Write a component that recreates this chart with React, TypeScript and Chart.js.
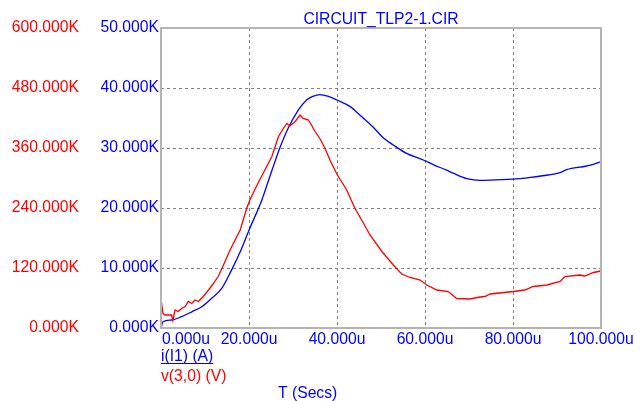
import React, { useEffect, useRef } from "react";
import { Chart, registerables } from "chart.js";

Chart.register(...registerables);

// ---- data ----
const chartTitle = "CIRCUIT_TLP2-1.CIR";
const xTitle = "T (Secs)";
const currentLabel = "i(I1) (A)";
const voltageLabel = "v(3,0) (V)";

const xTicks = [0, 20, 40, 60, 80, 100]; // microseconds
const currentTicks = [0, 10, 20, 30, 40, 50]; // K
const voltageTicks = [0, 120, 240, 360, 480, 600]; // K

// i(I1) in K vs time in u
const currentTime = [0, 0.45, 2.4, 4.7, 7, 9.25, 11.5, 13.8, 16, 18, 20, 22.9, 24.4, 27, 28.9, 31.2, 33.1, 34.5, 36.1, 38, 40, 43, 45.5, 48.2, 50.5, 52.8, 55.8, 59.6, 62, 64.9, 66.4, 69.5, 72.5, 76, 80, 84, 88, 90.7, 92.2, 96.7, 100];
const currentValues = [0, 1.05, 1.33, 1.9, 2.7, 3.55, 4.95, 6.6, 9.6, 12.7, 16.3, 21.3, 24.5, 30, 33.3, 36.3, 38, 38.6, 38.9, 38.6, 38.0, 36.9, 35.3, 33.5, 31.7, 30.5, 29.1, 28, 27.2, 26.3, 25.8, 24.9, 24.6, 24.7, 24.8, 25.1, 25.5, 25.9, 26.4, 27, 27.7];

// v(3,0) in K vs time in u
const voltageTime = [0, 0.1, 0.45, 0.9, 2.4, 2.7, 3.2, 3.9, 4.7, 5.5, 6.2, 7, 7.7, 8.5, 9.6, 10.8, 11.9, 13, 13.9, 15.7, 18, 19.5, 20.2, 21.5, 23.6, 25.2, 26.7, 27.8, 28.6, 29.3, 30.5, 31.6, 32.3, 33.5, 34.2, 35, 36.1, 37.3, 38.4, 39.9, 42.2, 44.1, 45.6, 47.5, 50.2, 52.8, 54.7, 56.6, 58.9, 60.4, 62.7, 65.3, 67.2, 70.2, 72.5, 73.6, 74.8, 80.1, 82.7, 84.6, 87.7, 90.7, 91.8, 95.2, 96.3, 98.3, 100];
const voltageValues = [3, 52, 29, 26, 26, 15, 36, 33, 39, 43, 53, 49, 56, 53, 63, 76, 89, 103, 120, 156, 196, 240, 256, 280, 316, 343, 383, 399, 409, 404, 413, 426, 419, 416, 406, 393, 379, 359, 336, 309, 276, 239, 216, 186, 153, 126, 108, 101, 96, 86, 76, 73, 59, 58, 62, 63, 68, 73, 76, 83, 86, 93, 103, 106, 104, 111, 114];

const BLUE = "#0000ff";
const RED = "#ff0000";
const FONT = "'Liberation Sans', Arial, sans-serif";
const FS = 15.7;

export default function App() {
  const ref = useRef<HTMLCanvasElement | null>(null);

  useEffect(() => {
    const canvas = ref.current;
    if (!canvas) return;

    const gridPlugin = {
      id: "spiceGrid",
      beforeDatasetsDraw(chart: any) {
        const ctx = chart.ctx;
        const a = chart.chartArea;
        const xs = chart.scales.x;
        const ys = chart.scales.yI;
        ctx.save();
        ctx.strokeStyle = "#7f7f7f";
        ctx.lineWidth = 1;
        ctx.setLineDash([3, 3]);
        xTicks.slice(1, -1).forEach((t) => {
          const px = Math.round(xs.getPixelForValue(t)) + 0.5;
          ctx.beginPath();
          ctx.moveTo(px, a.top);
          ctx.lineTo(px, a.bottom);
          ctx.stroke();
        });
        currentTicks.slice(1, -1).forEach((v) => {
          const py = Math.round(ys.getPixelForValue(v)) + 0.5;
          ctx.beginPath();
          ctx.moveTo(a.left, py);
          ctx.lineTo(a.right, py);
          ctx.stroke();
        });
        ctx.restore();
      },
    };

    const textPlugin = {
      id: "spiceText",
      afterDraw(chart: any) {
        const ctx = chart.ctx;
        const area = chart.chartArea;
        const xs = chart.scales.x;
        ctx.save();
        // frame
        ctx.strokeStyle = "#b4b4b4";
        ctx.lineWidth = 2;
        ctx.setLineDash([]);
        ctx.strokeRect(area.left, area.top, area.right - area.left, area.bottom - area.top);

        ctx.font = `${FS}px ${FONT}`;
        ctx.textBaseline = "alphabetic";
        // title
        ctx.fillStyle = BLUE;
        ctx.textAlign = "center";
        ctx.fillText(chartTitle, (area.left + area.right) / 2, 24);
        // x tick labels
        xTicks.forEach((t, i) => {
          const px = xs.getPixelForValue(t);
          ctx.textAlign = i === 0 ? "left" : "center";
          ctx.fillText(t.toFixed(3) + "u", i === 0 ? px + 1 : px, 344);
        });
        // legend
        ctx.textAlign = "left";
        ctx.fillStyle = BLUE;
        ctx.fillText(currentLabel, area.left, 361);
        const w = ctx.measureText(currentLabel).width;
        ctx.strokeStyle = BLUE;
        ctx.lineWidth = 1;
        ctx.beginPath();
        ctx.moveTo(area.left, 363.5);
        ctx.lineTo(area.left + w, 363.5);
        ctx.stroke();
        ctx.fillStyle = RED;
        ctx.fillText(voltageLabel, area.left, 381);
        ctx.fillStyle = BLUE;
        ctx.fillText(xTitle, 278, 398);
        ctx.restore();
      },
    };

    const chart = new Chart(canvas, {
      type: "line",
      data: {
        datasets: [
          {
            label: voltageLabel,
            data: voltageTime.map((t, i) => ({ x: t, y: voltageValues[i] })),
            borderColor: RED,
            borderWidth: 1.3,
            pointRadius: 0,
            tension: 0,
            yAxisID: "yV",
          },
          {
            label: currentLabel,
            data: currentTime.map((t, i) => ({ x: t, y: currentValues[i] })),
            borderColor: BLUE,
            borderWidth: 1.3,
            pointRadius: 0,
            cubicInterpolationMode: "monotone",
            yAxisID: "yI",
          },
        ],
      },
      options: {
        responsive: false,
        animation: false,
        events: [],
        layout: { padding: { top: 28, right: 43, left: 0, bottom: 0 } },
        plugins: { legend: { display: false }, tooltip: { enabled: false }, title: { display: false } },
        scales: {
          x: {
            type: "linear",
            min: 0,
            max: 100,
            afterBuildTicks: (s: any) => { s.ticks = xTicks.map((v) => ({ value: v })); },
            ticks: { display: false },
            grid: { display: false, drawTicks: false },
            border: { display: false },
            afterFit: (s: any) => { s.height = 73; },
          },
          yV: {
            type: "linear",
            position: "left",
            weight: 2,
            min: 0,
            max: 600,
            afterBuildTicks: (s: any) => { s.ticks = voltageTicks.map((v) => ({ value: v })); },
            ticks: {
              color: RED,
              padding: 1,
              font: { family: FONT, size: FS },
              callback: (v: any) => Number(v).toFixed(3) + "K",
            },
            grid: { display: false, drawTicks: false },
            border: { display: false },
            afterFit: (s: any) => { s.width = 80; },
          },
          yI: {
            type: "linear",
            position: "left",
            weight: 1,
            min: 0,
            max: 50,
            afterBuildTicks: (s: any) => { s.ticks = currentTicks.map((v) => ({ value: v })); },
            ticks: {
              color: BLUE,
              padding: 2,
              font: { family: FONT, size: FS },
              callback: (v: any) => Number(v).toFixed(3) + "K",
            },
            grid: { display: false, drawTicks: false },
            border: { display: false },
            afterFit: (s: any) => { s.width = 81; },
          },
        },
      },
      plugins: [gridPlugin, textPlugin],
    } as any);

    return () => chart.destroy();
  }, []);

  return (
    <div style={{ position: "fixed", left: 0, top: 0, width: 644, height: 401, background: "#fff" }}>
      <canvas ref={ref} width={644} height={401} style={{ width: 644, height: 401 }} />
    </div>
  );
}
